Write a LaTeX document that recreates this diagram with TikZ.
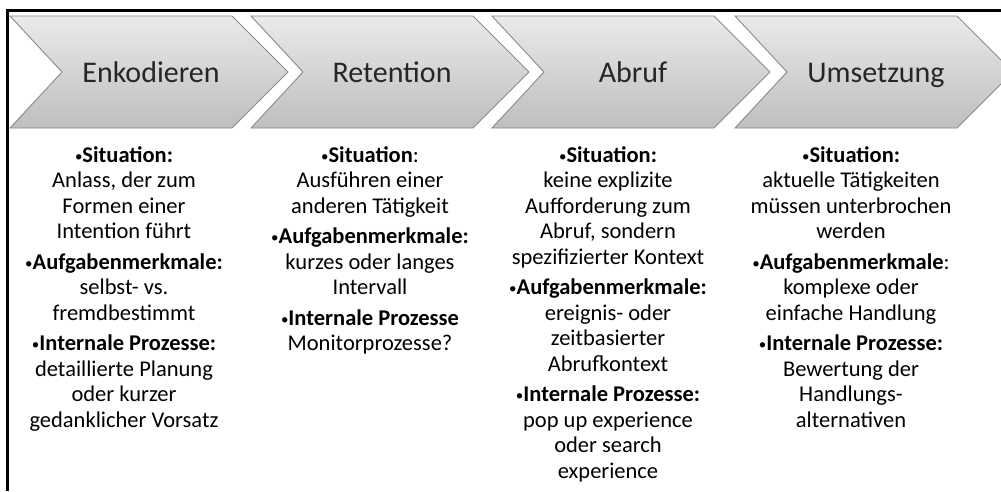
\documentclass[tikz,border=0pt]{standalone}
\usepackage{fontspec}
\setmainfont{Carlito}
\definecolor{phasetop}{HTML}{EAEAEA}
\definecolor{phasebot}{HTML}{BEBEBE}
\definecolor{phaseline}{HTML}{8A8A8A}
\newcommand{\pt}{{\fontsize{15}{15}\selectfont\raisebox{1pt}{•}}}
\begin{document}
\begin{tikzpicture}[
            x=1pt, y=-1pt,
            phase/.style={
                draw=phaseline,
                line width=0.9pt,
                line join=miter,
                top color=phasetop,
                bottom color=phasebot
            },
            phase label/.style={
                anchor=base,
                text=black!85,
                font=\fontsize{30}{36}\selectfont
            },
            info/.style={
                anchor=north,
                align=center,
                inner sep=0pt,
                font=\fontsize{22.5}{25.5}\selectfont
            }
        ]
        \useasboundingbox (0,0) rectangle (1001,491);
        \draw[line width=3pt] (7.5,491) -- (7.5,10.5) -- (1001,10.5);
        \foreach \L/\nm/\word in {10/enk/Enkodieren, 251/ret/Retention, 492/abr/Abruf, 735/ums/Umsetzung} {
            \shade[phase] (\L,16) -- ++(222,0) -- ++(56,56) -- ++(-56,56) -- ++(-222,0) -- ++(52,-56) -- cycle;
            \node[phase label] (\nm) at (\L+141,82) {\word};
        }
        \node[info] (enk-info) at (124,146) {
            \pt\textbf{Situation:}\\ Anlass, der zum\\ Formen einer\\ Intention führt\\[5pt]
            \pt\textbf{Aufgabenmerkmale:}\\ selbst- vs.\\ fremdbestimmt\\[5pt]
            \pt\textbf{Internale Prozesse:}\\ detaillierte Planung\\ oder kurzer\\ gedanklicher Vorsatz};
        \node[info] (ret-info) at (370,146) {
            \pt\textbf{Situation}:\\ Ausführen einer\\ anderen Tätigkeit\\[5pt]
            \pt\textbf{Aufgabenmerkmale:}\\ kurzes oder langes\\ Intervall\\[5pt]
            \pt\textbf{Internale Prozesse}\\ Monitorprozesse?};
        \node[info] (abr-info) at (608,146) {
            \pt\textbf{Situation:}\\ keine explizite\\ Aufforderung zum\\ Abruf, sondern\\ spezifizierter Kontext\\[5pt]
            \pt\textbf{Aufgabenmerkmale:}\\ ereignis- oder\\ zeitbasierter\\ Abrufkontext\\[5pt]
            \pt\textbf{Internale Prozesse:}\\ pop up experience\\ oder search\\ experience};
        \node[info] (ums-info) at (851,146) {
            \pt\textbf{Situation:}\\ aktuelle Tätigkeiten\\ müssen unterbrochen\\ werden\\[5pt]
            \pt\textbf{Aufgabenmerkmale}:\\ komplexe oder\\ einfache Handlung\\[5pt]
            \pt\textbf{Internale Prozesse:}\\ Bewertung der\\ Handlungs-\\ alternativen};
        \end{tikzpicture}
\end{document}
